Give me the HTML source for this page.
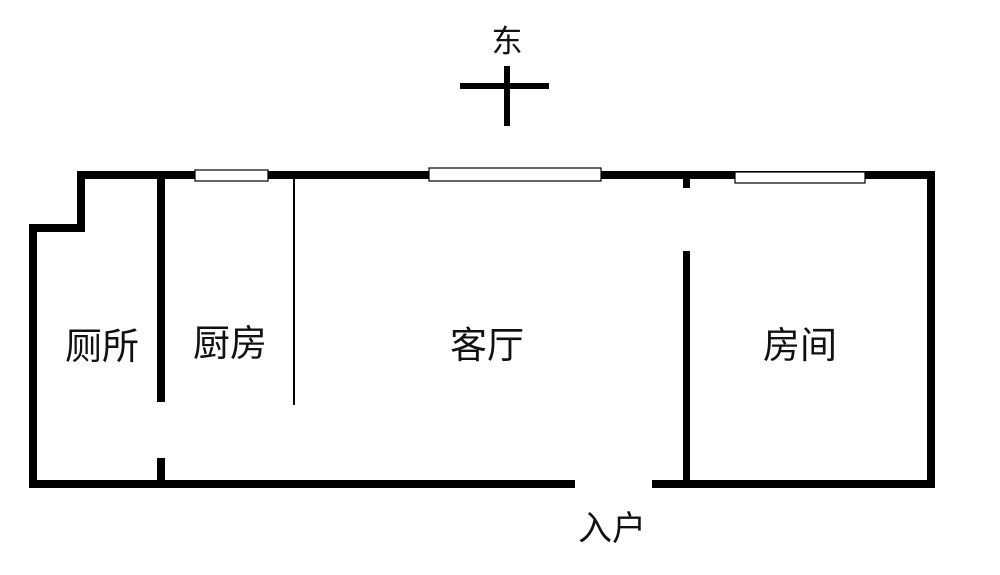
<!DOCTYPE html>
<html><head><meta charset="utf-8"><style>
body{margin:0;background:#fff;}
svg text{font-family:"Liberation Sans","Noto Sans CJK SC",sans-serif;fill:#111;}
</style></head><body>
<svg width="1000" height="570" viewBox="0 0 1000 570" xmlns="http://www.w3.org/2000/svg">
<g fill="#000">
<rect x="77" y="171" width="858" height="8"/>
<rect x="77" y="171" width="8" height="60"/>
<rect x="29" y="224" width="56" height="8"/>
<rect x="29" y="224" width="8" height="264"/>
<rect x="29" y="480" width="546" height="8"/>
<rect x="652" y="480" width="283" height="8"/>
<rect x="927" y="171" width="8" height="317"/>
<rect x="157" y="175" width="8" height="227"/>
<rect x="157" y="458" width="8" height="25"/>
<rect x="293" y="178" width="2" height="227"/>
<rect x="683" y="175" width="7" height="13"/>
<rect x="683" y="251" width="7" height="237"/>
<rect x="460" y="83" width="89" height="6"/>
<rect x="504" y="66" width="6" height="60"/>
</g>
<g fill="#fff" stroke="#000" stroke-width="1.2">
<rect x="195" y="170" width="73" height="11"/>
<rect x="429" y="168" width="172" height="13"/>
<rect x="735" y="172" width="130" height="11"/>
</g>
<g font-size="37" text-anchor="middle">
<text x="102" y="359">厕所</text>
<text x="230" y="356">厨房</text>
<text x="487" y="358">客厅</text>
<text x="800" y="358">房间</text>
<text x="507" y="52" font-size="31">东</text>
<text x="612" y="540" font-size="34">入户</text>
</g>
</svg>
</body></html>
